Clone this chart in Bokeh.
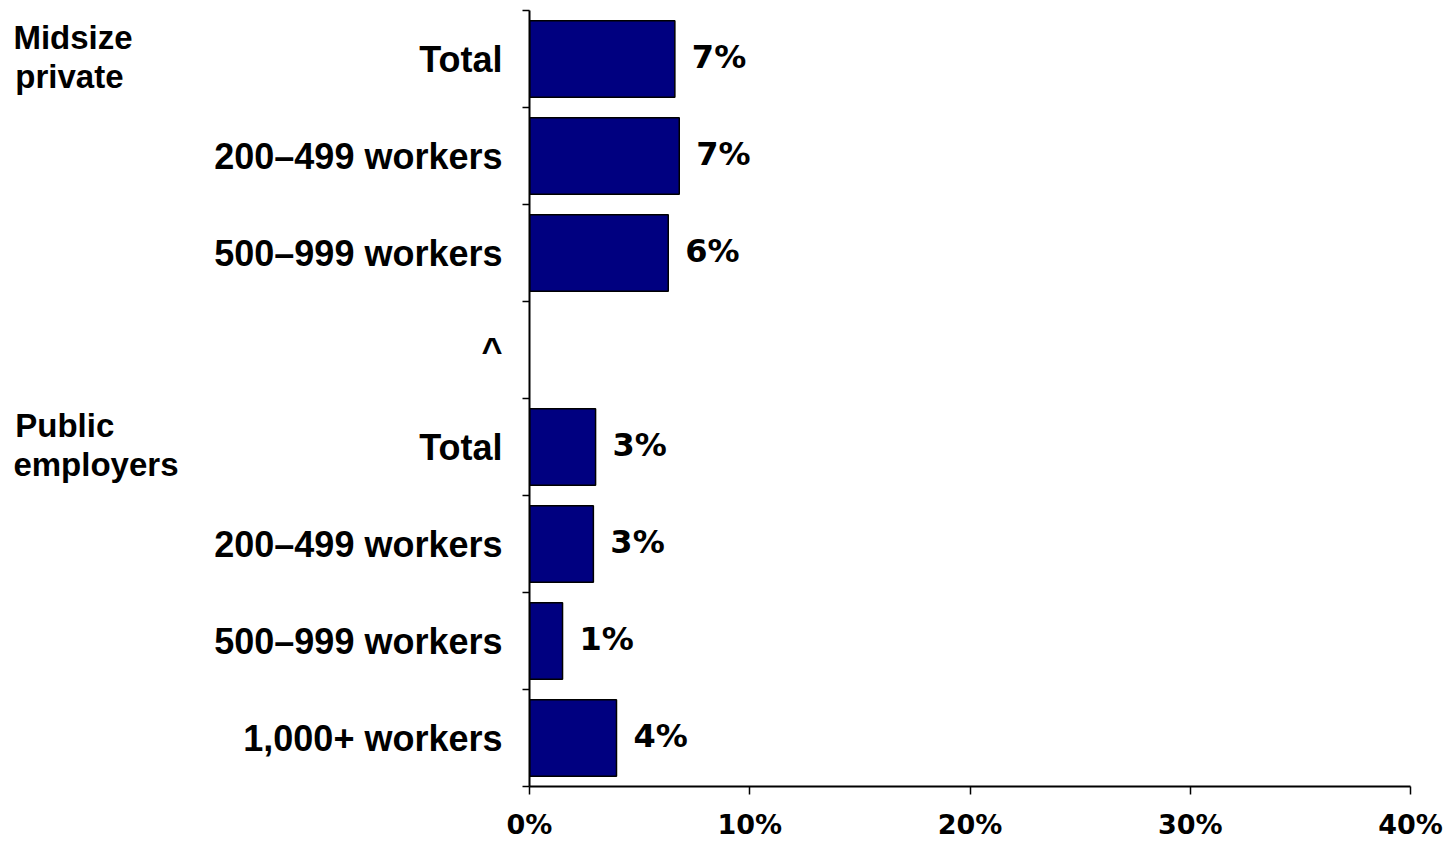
from bokeh.plotting import figure
from bokeh.models import Range1d, FixedTicker, ColumnDataSource, LinearAxis
from bokeh.core.properties import value
from bokeh.embed import file_html
from bokeh.resources import INLINE

# ---- data (top to bottom) ----
categories = ["Total", "200\u2013499 workers", "500\u2013999 workers", "^",
              "Total", "200\u2013499 workers", "500\u2013999 workers", "1,000+ workers"]
values = [6.6, 6.8, 6.3, None, 3.0, 2.9, 1.5, 3.95]
value_labels = ["7%", "7%", "6%", "", "3%", "3%", "1%", "4%"]
group_lines = [["Midsize", "private"], ["Public", "employers"]]
group_rows = [0, 4]
x_ticks = [0, 10, 20, 30, 40]
x_tick_labels = ["0%", "10%", "20%", "30%", "40%"]

n = len(categories)
centers = [n - 0.5 - i for i in range(n)]
boundaries = list(range(n + 1))

W, H = 1454, 842
LEFT, TOP, FW, FH = 529, 10, 881, 777
p = figure(width=W, height=H, output_backend="svg", toolbar_location=None,
           x_range=Range1d(0, 40), y_range=Range1d(0, n))
p.min_border_left = LEFT
p.min_border_right = W - LEFT - FW
p.min_border_top = TOP
p.min_border_bottom = H - TOP - FH
p.outline_line_color = None
p.xgrid.grid_line_color = None
p.ygrid.grid_line_color = None
p.background_fill_color = "white"
p.border_fill_color = "white"

bar_y = [c for c, v in zip(centers, values) if v is not None]
bar_v = [v for v in values if v is not None]
bar_t = [t for t, v in zip(value_labels, values) if v is not None]
src = ColumnDataSource(dict(y=bar_y, right=bar_v, label=bar_t))

p.hbar(y="y", left=0, right="right", height=0.79, source=src,
       fill_color="#000080", line_color="black", line_width=1.5)
p.text(x="right", y="y", text="label", source=src, x_offset=17, y_offset=-2,
       text_align="left", text_baseline="middle",
       text_font=value("DejaVu Sans"), text_font_style="bold",
       text_font_size="32px", text_color="black")

# y axis: labels at centers, ticks at boundaries
ya = p.yaxis[0]
ya.ticker = FixedTicker(ticks=centers, minor_ticks=boundaries)
ya.major_label_overrides = {c: lab for c, lab in zip(centers, categories)}
ya.major_tick_out = 0
ya.major_tick_in = 0
ya.minor_tick_out = 7
ya.minor_tick_in = 0
ya.minor_tick_line_color = "black"
ya.minor_tick_line_width = 1.5
ya.axis_line_color = "black"
ya.axis_line_width = 2
ya.major_label_standoff = 20
ya.major_label_text_font = "Liberation Sans"
ya.major_label_text_font_style = "bold"
ya.major_label_text_font_size = "36px"
ya.major_label_text_color = "black"

xa = p.xaxis[0]
xa.ticker = FixedTicker(ticks=x_ticks, minor_ticks=[])
xa.major_label_overrides = {t: lab for t, lab in zip(x_ticks, x_tick_labels)}
xa.major_tick_out = 8
xa.major_tick_in = 0
xa.major_tick_line_color = "black"
xa.major_tick_line_width = 1.5
xa.axis_line_color = "black"
xa.axis_line_width = 2
xa.major_label_standoff = 14
xa.major_label_text_font = "DejaVu Sans"
xa.major_label_text_font_style = "bold"
xa.major_label_text_font_size = "27px"
xa.major_label_text_color = "black"

# group labels: an outer left axis with no line or ticks; lines padded with
# no-break spaces so that right-aligned text starts at the same left edge
pad = {"Midsize": 5, "private": 6, "Public": 7, "employers": 0}
g_ticks, g_over = [], {}
for lines, row in zip(group_lines, group_rows):
    top = n - row
    for k, txt in enumerate(lines):
        t = round(top - (0.28 + 0.405 * k), 3)
        g_ticks.append(t)
        g_over[t] = txt + "\u00a0" * pad[txt]
ga = LinearAxis(ticker=FixedTicker(ticks=g_ticks, minor_ticks=[]),
                major_label_overrides=g_over)
ga.axis_line_color = None
ga.major_tick_line_color = None
ga.minor_tick_line_color = None
ga.major_tick_out = 0
ga.major_tick_in = 0
ga.major_label_standoff = 33
ga.major_label_text_font = "Liberation Sans"
ga.major_label_text_font_style = "bold"
ga.major_label_text_font_size = "33px"
ga.major_label_text_color = "black"
p.add_layout(ga, "left")

open("out.html", "w").write(file_html(p, INLINE))
